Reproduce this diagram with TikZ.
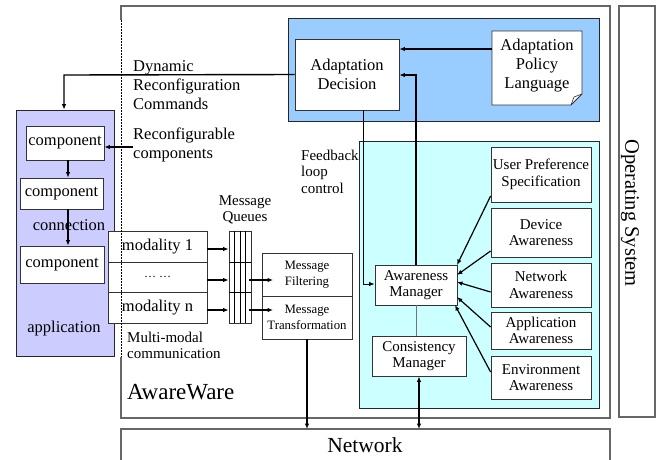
\documentclass[tikz,border=0pt]{standalone}
\usepackage{fontspec}
\setmainfont{Liberation Serif}
\usetikzlibrary{arrows.meta}
\definecolor{blueA}{HTML}{99CCFF}
\definecolor{cyanA}{HTML}{CCFFFF}
\definecolor{purpA}{HTML}{CCCCFF}
\begin{document}
\begin{tikzpicture}[x=1pt,y=-1pt,
  bx/.style={draw=black!80, fill=white, line width=0.8pt, inner sep=0pt, align=center},
  cont/.style={draw=black!85, line width=0.8pt, inner sep=0pt},
  arr/.style={-{Latex[length=5.5pt,width=4.5pt]}, line width=1.2pt},
  darr/.style={{Latex[length=5.5pt,width=4.5pt]}-{Latex[length=5.5pt,width=4.5pt]}, line width=1.4pt},
  outer/.style={draw=black!60, line width=1.3pt},
  fb/.style={font=\fontsize{16.5}{19}\selectfont},
  fm/.style={font=\fontsize{15}{16.5}\selectfont},
  fs/.style={font=\fontsize{12.8}{16}\selectfont},
  lbl/.style={inner sep=0pt, align=left},
]
\useasboundingbox (0,0) rectangle (657,459);

% outer frames
\draw[outer] (121,20) -- (121,6) -- (610,6) -- (610,418) -- (121,418) -- (121,357);
\node[outer, draw, minimum width=36, minimum height=411, inner sep=0pt] (os) at (637,211.5) {};
\node[rotate=-90, font=\fontsize{20.5}{24}\selectfont, inner sep=0pt] (ostext) at (630,213) {Operating System};
\draw[outer] (121,459.5) -- (121,429) -- (610,429) -- (610,459.5);
\coordinate (nettop) at (365,429);
\node[font=\fontsize{21.5}{24}\selectfont, inner sep=0pt] (network) at (365,445) {Network};

% containers
\node[cont, fill=blueA, minimum width=311, minimum height=103] (adapt) at (443.5,69.5) {};
\node[cont, fill=cyanA, minimum width=240, minimum height=267] (aware) at (479,274.5) {};
\node[cont, fill=purpA, minimum width=98, minimum height=246] (appbox) at (65,233) {};

% adaptation boxes
\node[bx, fb, minimum width=104, minimum height=71] (decision) at (347,74.5) {Adaptation\\Decision};
\draw[line width=0.8pt, draw=black!80, fill=white] (492,31) -- (582,31) -- (582,94) -- (571,105) -- (492,105) -- cycle;
\draw[line width=0.6pt, draw=black!80] (571,105) -- (574,97) -- (582,94);
\node[fb, minimum width=90, minimum height=74, inner sep=0pt, align=center] (policy) at (537,66) {Adaptation\\Policy\\Language};

% awareness boxes
\node[bx, fm, minimum width=82, minimum height=40] (am) at (416,285) {Awareness\\Manager};
\node[bx, fm, minimum width=94, minimum height=40] (cm) at (419,356) {Consistency\\Manager};
\node[bx, fm, minimum width=100, minimum height=55] (up) at (541,174.5) {User Preference\\Specification};
\node[bx, fm, minimum width=100, minimum height=49] (dev) at (541,232.5) {Device\\Awareness};
\node[bx, fm, minimum width=100, minimum height=44] (netaw) at (541,285) {Network\\Awareness};
\node[bx, fm, minimum width=100, minimum height=37] (appaw) at (541,330.5) {Application\\Awareness};
\node[bx, fm, minimum width=100, minimum height=43] (envaw) at (541,377.5) {Environment\\Awareness};

% application components
\node[bx, fb, minimum width=78, minimum height=34] (c1) at (65,143) {component};
\node[bx, fb, minimum width=83, minimum height=31] (c2) at (61.5,193.5) {component};
\node[bx, fb, minimum width=84, minimum height=37] (c3) at (62,264.5) {component};
\node[fb, inner sep=0pt] (connlbl) at (69,225) {connection};
\node[fb, inner sep=0pt] (applbl) at (64,329) {application};

% modalities
\node[bx, fb, minimum width=99, minimum height=31] (mod1) at (157.5,246.5) {modality 1};
\node[bx, fb, minimum width=99, minimum height=30] (mod2) at (157.5,277) {\fontsize{12}{14}\selectfont … …};
\node[bx, fb, minimum width=99, minimum height=31] (modn) at (157.5,307.5) {modality n};

% queue
\node[bx, minimum width=22, minimum height=92] (queue) at (240,277) {};
\draw[line width=0.7pt] (234.5,231) -- (234.5,323) (240,231) -- (240,323) (245.5,231) -- (245.5,323);
\draw[line width=0.7pt] (229,262) -- (251,262) (229,292) -- (251,292);

% message boxes
\node[bx, fs, minimum width=90, minimum height=43] (mf) at (307,274.5) {Message\\Filtering};
\node[bx, fs, minimum width=90, minimum height=43] (mt) at (307,317.5) {Message\\Transformation};

% dashed boundary
\draw[dashed, line width=1pt, dash pattern=on 2pt off 1pt] (121,20) -- (121,357);

% labels
\node[lbl, fb, anchor=west] (dyn) at (133,85) {Dynamic\\Reconfiguration\\Commands};
\node[lbl, fb, anchor=west] (reconf) at (133,144.5) {Reconfigurable\\components};
\node[lbl, fm, anchor=west] (fbk) at (301,171.5) {Feedback\\loop\\control};
\node[fm, inner sep=0pt, align=center] (mq) at (245,210) {Message\\Queues};
\node[lbl, fm, anchor=west] (mm) at (127,345.5) {Multi-modal\\communication};
\node[font=\fontsize{23}{24}\selectfont, inner sep=0pt, anchor=west] (awlbl) at (127,392) {AwareWare};

% connectors
\draw[arr] (policy.west |- 0,49) -- (decision.east |- 0,49);
\draw[arr, line width=1.8pt] (am.north) -- (am.north |- 0,75) -- (decision.east |- 0,75);
\draw[arr, line width=1pt] (decision.south -| 363,0) -- (363,284) -- (am.west |- 0,284);
\draw[arr, line width=1.4pt] (decision.west) -- (64,75) -- (appbox.north -| 64,0);
\coordinate (rc) at (133,147);
\draw[arr] (rc) -- (rc -| c1.east);
\draw[arr] (c1.south -| 68,0) -- (c2.north -| 68,0);
\draw[arr] (c2.south -| 68,0) -- (c3.north -| 68,0);
\draw[arr] ([yshift=-2.5pt]mod1.east) -- ([yshift=-2.5pt]mod1.east -| queue.west);
\draw[arr] ([yshift=-3pt]mod2.east) -- ([yshift=-3pt]mod2.east -| queue.west);
\draw[arr] ([yshift=-2.5pt]modn.east) -- ([yshift=-2.5pt]modn.east -| queue.west);
\coordinate (q1) at (249,280);
\coordinate (q2) at (249,310);
\draw[arr] (q1) -- (273,280);
\draw[arr] (q2) -- (273,310);
\draw[arr] (mt.south) -- (mt.south |- nettop);
\draw[darr] (cm.south) -- (cm.south |- nettop);
\draw[line width=1pt, draw=black!55] (am.south) -- (am.south |- cm.north);
\draw[arr] (up.west |- 0,196) -- (457,265);
\draw[arr] (dev.west |- 0,251) -- (457,275);
\draw[arr] (netaw.west |- 0,292) -- (457,282);
\draw[arr] (appaw.west |- 0,327) -- (457,297);
\draw[arr] (envaw.west |- 0,372) -- (455,305);
\end{tikzpicture}
\end{document}
